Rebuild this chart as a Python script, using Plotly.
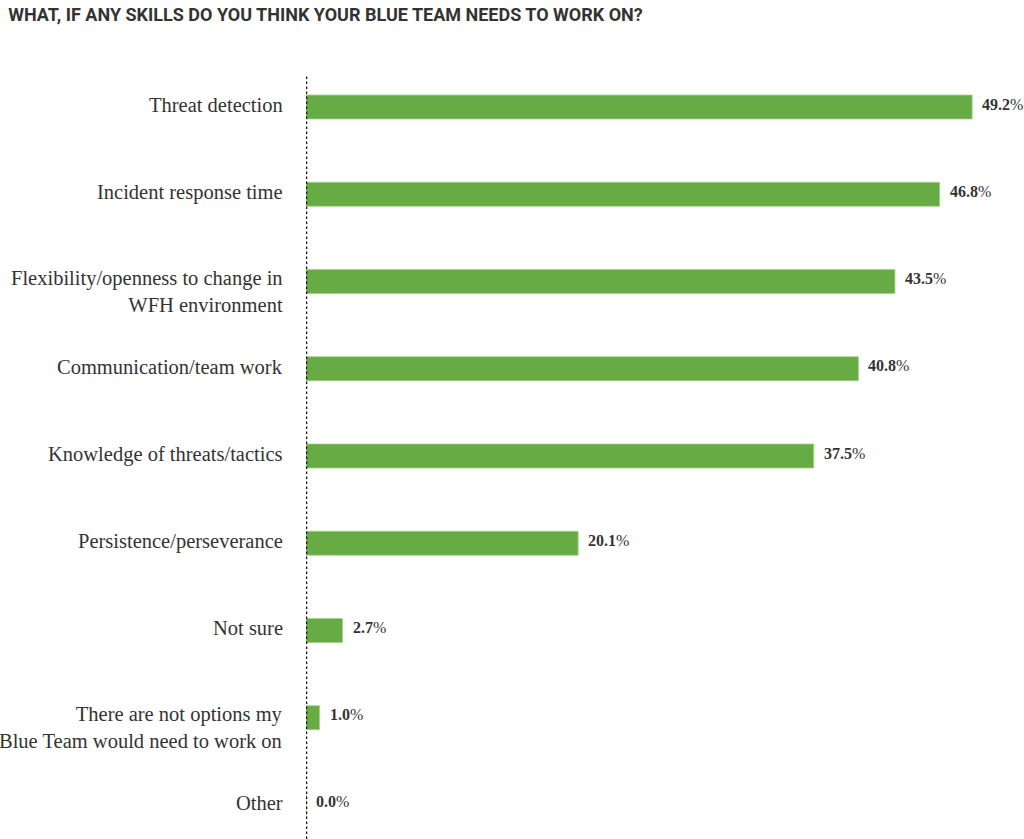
import plotly.graph_objects as go

title = "WHAT, IF ANY SKILLS DO YOU THINK YOUR BLUE TEAM NEEDS TO WORK ON?"
categories = [
    "Threat detection",
    "Incident response time",
    "Flexibility/openness to change in<br>WFH environment",
    "Communication/team work",
    "Knowledge of threats/tactics",
    "Persistence/perseverance",
    "Not sure",
    "There are not options my<br>Blue Team would need to work on",
    "Other",
]
values = [49.2, 46.8, 43.5, 40.8, 37.5, 20.1, 2.7, 1.0, 0.0]

GREEN = "#67ab44"
TEXT = "#333333"
SERIF = "Liberation Serif, Times New Roman, serif"

pos = list(range(len(categories)))

fig = go.Figure()
fig.add_trace(go.Bar(
    x=values, y=pos, orientation="h",
    marker=dict(color=GREEN, line=dict(color="#a5d08a", width=0.8)),
    width=0.275, hoverinfo="skip",
))

ann = []
for i, (c, v) in enumerate(zip(categories, values)):
    multi = "<br>" in c
    ann.append(dict(
        x=0, y=i, xref="x", yref="y", text=c, showarrow=False,
        xanchor="right", yanchor="middle", align="right", xshift=-21,
        yshift=-10 if multi else 2,
        font=dict(family=SERIF, size=20.5, color=TEXT),
    ))
    ann.append(dict(
        x=v, y=i, xref="x", yref="y",
        text="<b>%.1f</b>%%" % v, showarrow=False,
        xanchor="left", yanchor="middle", xshift=8, yshift=3,
        font=dict(family=SERIF, size=16, color=TEXT),
    ))

fig.update_layout(
    width=1024, height=839,
    margin=dict(l=306, r=0, t=75, b=0),
    paper_bgcolor="white", plot_bgcolor="white",
    showlegend=False,
    title=dict(text="<b>" + title + "</b>", x=0.008, xanchor="left", y=0.983, yanchor="middle",
               font=dict(family="Roboto, Open Sans, sans-serif", size=18, color=TEXT)),
    xaxis=dict(range=[0, 53.03], showgrid=False, zeroline=False, showticklabels=False,
               showline=False, ticks=""),
    yaxis=dict(range=[8.39, -0.367], showgrid=False, zeroline=False, showticklabels=False,
               showline=False, ticks=""),
    annotations=ann,
    shapes=[dict(type="line", xref="x", yref="paper", x0=0, x1=0, y0=0, y1=1,
                 line=dict(color="#111111", width=2.5, dash="2.5px,2.5px"), layer="above")],
)

fig.write_html("out.html")
